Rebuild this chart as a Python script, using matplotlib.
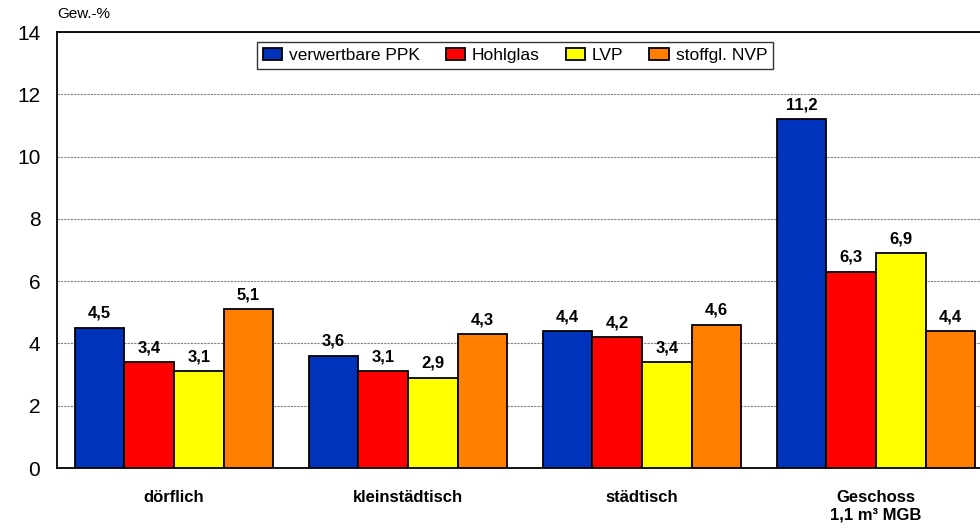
import numpy as np
import matplotlib
matplotlib.use("Agg")
from matplotlib import pyplot as plt

categories = ["dörflich", "kleinstädtisch", "städtisch", "Geschoss\n1,1 m³ MGB"]
series_names = ["verwertbare PPK", "Hohlglas", "LVP", "stoffgl. NVP"]
ppk = [4.5, 3.6, 4.4, 11.2]
hohlglas = [3.4, 3.1, 4.2, 6.3]
lvp = [3.1, 2.9, 3.4, 6.9]
nvp = [5.1, 4.3, 4.6, 4.4]
colors = ["#0033BB", "#FF0000", "#FFFF00", "#FF8000"]

plt.rcParams["font.family"] = ["Liberation Sans", "DejaVu Sans"]

fig = plt.figure(figsize=(9.8, 5.3), dpi=100)
ax = fig.add_axes([57 / 980, 1 - 468 / 530, (993 - 57) / 980, (468 - 32) / 530])

x = np.arange(len(categories))
width = 0.2125
for i, (name, vals) in enumerate(zip(series_names, [ppk, hohlglas, lvp, nvp])):
    pos = x + (i - 1.5) * width
    ax.bar(pos, vals, width, color=colors[i], edgecolor="black", linewidth=1.3,
           label=name, zorder=3)
    for p, v in zip(pos, vals):
        ax.annotate(f"{v:.1f}".replace(".", ","), (p, v), xytext=(0, 5),
                    textcoords="offset points", ha="center", va="bottom",
                    fontsize=12, fontweight="bold", zorder=4)

ax.set_xlim(-0.5, len(categories) - 0.5)
ax.set_ylim(0, 14)
ax.set_yticks(range(0, 15, 2))
ax.tick_params(axis="y", length=0, pad=12, labelsize=15)
ax.tick_params(axis="x", length=0, pad=16)
ax.set_xticks(x)
ax.set_xticklabels(categories, fontsize=12, fontweight="bold")
ax.yaxis.grid(True, linestyle=(0, (2, 1)), color="gray", linewidth=0.8, zorder=0)
for s in ["left", "bottom", "top"]:
    ax.spines[s].set_linewidth(1.3)
ax.spines["right"].set_visible(False)

ax.text(0.0, 1.025, "Gew.-%", transform=ax.transAxes, fontsize=11, va="bottom", ha="left")

leg = ax.legend(loc="upper center", bbox_to_anchor=(458 / 936, 0.977), ncol=4,
                fontsize=12.5, frameon=True, fancybox=False, edgecolor="black",
                handlelength=1.1, handleheight=0.7, handletextpad=0.4,
                columnspacing=1.5, borderpad=0.35, borderaxespad=0)
leg.get_frame().set_linewidth(1.0)

fig.savefig("out.png", dpi=100)
